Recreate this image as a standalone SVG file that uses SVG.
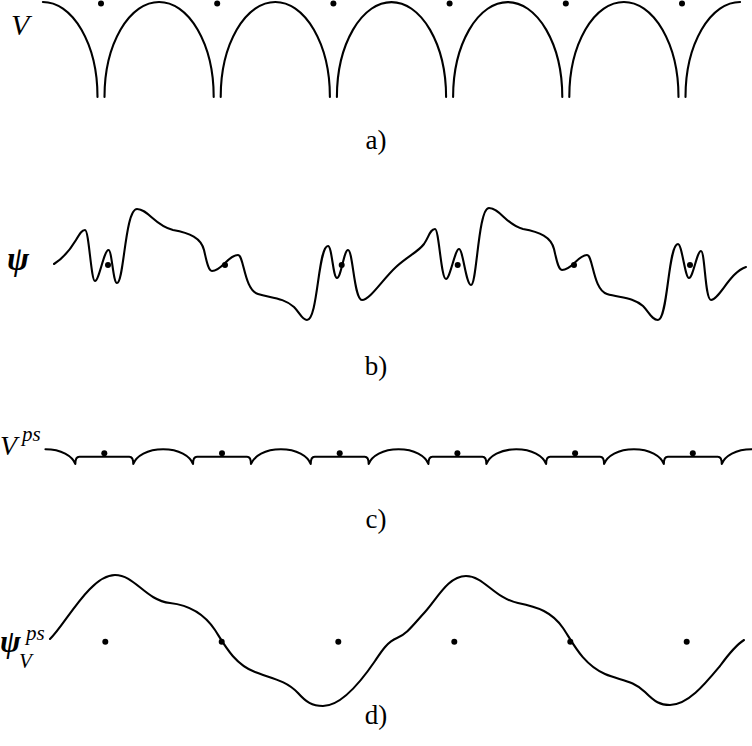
<svg xmlns="http://www.w3.org/2000/svg" width="752" height="746" viewBox="0 0 752 746">
<style>
.c{fill:none;stroke:#000;stroke-width:2.1;stroke-linecap:round;stroke-linejoin:round}
.d{fill:#000}
.t{font-family:"Liberation Serif","Times New Roman",serif;fill:#000}
.i{font-style:italic}
.b{font-weight:bold}
</style>
<rect width="752" height="746" fill="#fff"/>
<g id="panel-a">
<path class="c" d="M42.9,2 a54.6,95 0 0 1 54.6,95 m7,0 a54.6,95 0 0 1 109.2,0 m7,0 a54.6,95 0 0 1 109.2,0 m7,0 a54.6,95 0 0 1 109.2,0 m7,0 a54.6,95 0 0 1 109.2,0 m7,0 a54.6,95 0 0 1 109.2,0 m7,0 a54.6,95 0 0 1 54.6,-95"/>
<g class="d"><circle cx="101" cy="3.5" r="3"/><circle cx="217.2" cy="3.5" r="3"/><circle cx="333.4" cy="3.5" r="3"/><circle cx="449.6" cy="3.5" r="3"/><circle cx="565.8" cy="3.5" r="3"/><circle cx="682" cy="3.5" r="3"/></g>
<text class="t i" x="11" y="35" font-size="30">V</text>
<text class="t" x="376" y="149" font-size="27" text-anchor="middle">a)</text>
</g>
<g id="panel-b">
<path class="c" d="M54,264 C62,259 70,250 76,240 C80,233 82,230 85,230 C89,230 91,281 95,281 C99,281 104,250 108.5,250 C112,250 113,283 117,283 C124,283 125,209 137,209 C148,209 155,226 173,230 C190,233 201,238 204,250 C206,258 208,271 212,271 C222,271 228,255 238,255 C244,255 244,290 258,294 C272,298 284,298 294,307 C300,313 302,320 307,320 C318,320 318,246 328,246 C332,246 333,278 337,278 C341,278 344,250 348,250 C353,250 354,300 362,300 C370,300 382,280 396,267 C408,256 418,252 424,244 C429,237 430,229 435,229 C439,229 441,279 446,279 C450,279 455,249 459,249 C463,249 466,285 471,285 C477,285 478,208 489,208 C500,208 506,225 523,229 C540,232 551,237 554,249 C556,257 558,270 562,270 C572,270 578,255 587,255 C593,255 593,290 607,294 C621,298 633,297 643,306 C649,312 652,320 658,320 C668,320 668,244 678,244 C682,244 685,278 689,278 C693,278 697,251 701,251 C705,251 705,300 711,300 C719,300 730,272 746,267"/>
<g class="d"><circle cx="108" cy="265" r="3"/><circle cx="225" cy="265" r="3"/><circle cx="341.7" cy="265" r="3"/><circle cx="457.7" cy="265" r="3"/><circle cx="574" cy="265" r="3"/><circle cx="690" cy="265" r="3"/></g>
<text class="t i b" x="7" y="270" font-size="33">ψ</text>
<text class="t" x="376" y="375" font-size="27" text-anchor="middle">b)</text>
</g>
<g id="panel-c">
<path class="c" d="M45.45,449.3 c15.85,0 26.85,6.7 29.85,14.7 c0,-5 1,-7.3 4,-7.3 h50 c3,0 4,2.3 4,7.3 c3,-8 14,-14.7 29.85,-14.7 c15.85,0 26.85,6.7 29.85,14.7 c0,-5 1,-7.3 4,-7.3 h50 c3,0 4,2.3 4,7.3 c3,-8 14,-14.7 29.85,-14.7 c15.85,0 26.85,6.7 29.85,14.7 c0,-5 1,-7.3 4,-7.3 h50 c3,0 4,2.3 4,7.3 c3,-8 14,-14.7 29.85,-14.7 c15.85,0 26.85,6.7 29.85,14.7 c0,-5 1,-7.3 4,-7.3 h50 c3,0 4,2.3 4,7.3 c3,-8 14,-14.7 29.85,-14.7 c15.85,0 26.85,6.7 29.85,14.7 c0,-5 1,-7.3 4,-7.3 h50 c3,0 4,2.3 4,7.3 c3,-8 14,-14.7 29.85,-14.7 c15.85,0 26.85,6.7 29.85,14.7 c0,-5 1,-7.3 4,-7.3 h50 c3,0 4,2.3 4,7.3 c3,-8 14,-14.7 29.85,-14.7"/>
<g class="d"><circle cx="104.3" cy="453.3" r="3"/><circle cx="222" cy="453.3" r="3"/><circle cx="339.7" cy="453.3" r="3"/><circle cx="457.4" cy="453.3" r="3"/><circle cx="575.1" cy="453.3" r="3"/><circle cx="692.8" cy="453.3" r="3"/></g>
<text class="t i" x="0" y="455" font-size="28">V</text>
<text class="t i" x="22" y="441" font-size="21">ps</text>
<text class="t" x="376" y="528" font-size="27" text-anchor="middle">c)</text>
</g>
<g id="panel-d">
<path class="c" d="M50,639 C65,625 90,575 115,575 C135,575 145,600 170,603 C188,605 203,612 215,630 C224,644 234,664 255,672 C270,678 286,680 298,693 C306,702 312,706 323,706 C340,706 360,683 375,661 C381,652 387,642 397,638 C407,634 413,625 425,612 C437,599 448,576 466,576 C484,576 494,598 518,603 C538,607 552,612 563,628 C572,641 582,664 605,674 C620,680.5 633,680 645,692 C655,702 660,705 670,705 C688,705 705,684 720,666 C728,655 736,645 744,640"/>
<g class="d"><circle cx="105.3" cy="641.7" r="3"/><circle cx="221.7" cy="641.7" r="3"/><circle cx="338.3" cy="641.7" r="3"/><circle cx="454.3" cy="641.7" r="3"/><circle cx="570.3" cy="641.7" r="3"/><circle cx="686.7" cy="641.7" r="3"/></g>
<text class="t i b" x="0" y="652" font-size="31">ψ</text>
<text class="t i" x="26" y="640" font-size="21">ps</text>
<text class="t i" x="19" y="668" font-size="21">V</text>
<text class="t" x="376" y="724" font-size="27" text-anchor="middle">d)</text>
</g>
</svg>
